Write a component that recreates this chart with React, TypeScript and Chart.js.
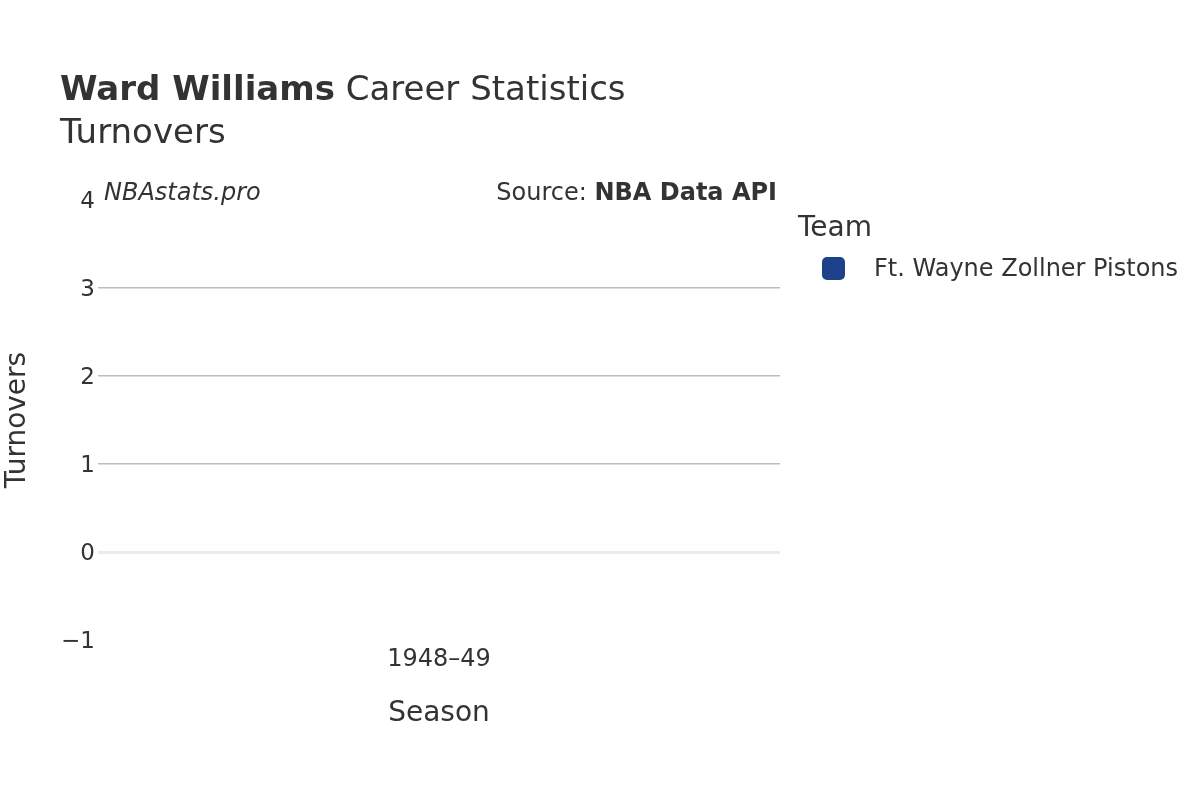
import { useEffect, useRef } from "react";
import Chart from "chart.js/auto";

// Career data — one season, no turnovers recorded
const SEASONS = ["1948–49"];
const TEAMS = ["Ft. Wayne Zollner Pistons"];
const TEAM_COLORS = ["#1d428a"];
const TURNOVERS = [0];
const Y_TICKS = [-1, 0, 1, 2, 3, 4];

const FONT = "'DejaVu Sans', sans-serif";
const TEXT = "#333333";

export default function App() {
  const canvasRef = useRef<HTMLCanvasElement>(null);

  useEffect(() => {
    if (!canvasRef.current) return;

    const chart = new Chart(canvasRef.current, {
      type: "bar",
      data: {
        labels: SEASONS,
        datasets: TEAMS.map((team, i) => ({
          label: team,
          data: TURNOVERS,
          backgroundColor: TEAM_COLORS[i],
          borderWidth: 0,
        })),
      },
      options: {
        responsive: false,
        animation: false,
        layout: { padding: { top: 200, right: 420, bottom: 60, left: 0 } },
        plugins: {
          legend: { display: false },
          tooltip: { enabled: false },
        },
        scales: {
          x: {
            grid: { display: false },
            border: { display: false },
            ticks: { color: TEXT, font: { family: FONT, size: 24 }, padding: -3 },
            title: {
              display: true,
              text: "Season",
              color: TEXT,
              font: { family: FONT, size: 28 },
              padding: { top: 0, bottom: 9 },
            },
            afterFit: (scale) => {
              scale.height = 100;
            },
          },
          y: {
            min: Math.min(...Y_TICKS),
            max: Math.max(...Y_TICKS),
            afterBuildTicks: (scale) => {
              scale.ticks = Y_TICKS.map((v) => ({ value: v }));
            },
            border: { display: false },
            grid: {
              drawTicks: false,
              color: (ctx) => {
                const v = ctx.tick?.value;
                if (v === 0) return "#ebebeb";
                if (v === -1 || v === 4) return "rgba(0,0,0,0)";
                return "#bdbdbd";
              },
              lineWidth: (ctx) => (ctx.tick?.value === 0 ? 3 : 1.5),
            },
            ticks: {
              color: TEXT,
              font: { family: FONT, size: 23 },
              padding: 3,
              labelOffset: 2,
              callback: (v) => (Number(v) < 0 ? "−" + Math.abs(Number(v)) : String(v)),
            },
            title: {
              display: true,
              text: "Turnovers",
              color: TEXT,
              font: { family: FONT, size: 28 },
              padding: { top: 1, bottom: 0 },
            },
            afterFit: (scale) => {
              scale.width = 98;
            },
          },
        },
      },
    });

    return () => chart.destroy();
  }, []);

  return (
    <div
      style={{
        position: "fixed",
        left: 0,
        top: 0,
        width: 1200,
        height: 800,
        background: "#ffffff",
        fontFamily: FONT,
        color: TEXT,
      }}
    >
      <canvas ref={canvasRef} width={1200} height={800} style={{ position: "absolute", left: 0, top: 0 }} />

      {/* Title */}
      <div style={{ position: "absolute", left: 60, top: 67, fontSize: 34, lineHeight: "43px", whiteSpace: "nowrap" }}>
        <b>Ward Williams</b> Career Statistics
        <br />
        Turnovers
      </div>

      {/* Watermark + source */}
      <div style={{ position: "absolute", left: 104, top: 178, fontSize: 24, fontStyle: "italic", whiteSpace: "nowrap" }}>
        NBAstats.pro
      </div>
      <div
        style={{ position: "absolute", right: 1200 - 777, top: 178, fontSize: 24, whiteSpace: "nowrap" }}
      >
        Source: <b>NBA Data API</b>
      </div>

      {/* Legend */}
      <div style={{ position: "absolute", left: 798, top: 210, fontSize: 28, whiteSpace: "nowrap" }}>Team</div>
      {TEAMS.map((team, i) => (
        <div
          key={team}
          style={{ position: "absolute", left: 822, top: 254 + i * 36, display: "flex", alignItems: "center", whiteSpace: "nowrap" }}
        >
          <span
            style={{ width: 23, height: 23, borderRadius: 5, background: TEAM_COLORS[i], display: "inline-block" }}
          />
          <span style={{ marginLeft: 29, fontSize: 24 }}>{team}</span>
        </div>
      ))}
    </div>
  );
}
